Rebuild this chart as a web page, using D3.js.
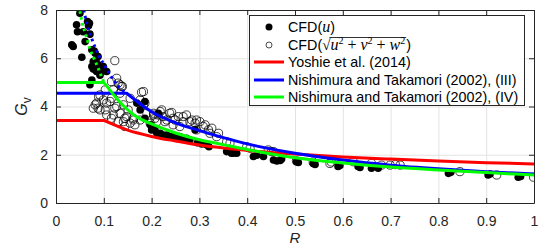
<!DOCTYPE html>
<html lang="en">
<head>
<meta charset="UTF-8">
<title>Gv vs R</title>
<script src="https://d3js.org/d3.v7.min.js"></script>
<style>
    body { margin: 0; background: #fff; }
    svg { display: block; font-family: "Liberation Sans", Arial, sans-serif; }
    .grid line { stroke: #e3e3e3; stroke-width: 1; }
    .grid path { display: none; }
    .axis path, .axis line { stroke: #262626; stroke-width: 1; }
    .axis text { fill: #262626; font-size: 14px; font-family: "Liberation Sans", Arial, sans-serif; }
</style>
</head>
<body>
<script>
    // CFD(u) - filled markers
    var filledR = [0.050, 0.043, 0.066, 0.068, 0.070, 0.045, 0.057, 0.071, 0.061, 0.033, 0.036, 0.075, 0.082, 0.088,
        0.054, 0.078, 0.088, 0.075, 0.078, 0.099, 0.085, 0.096, 0.106, 0.092, 0.075, 0.071, 0.080, 0.084,
        0.169, 0.186, 0.214, 0.176, 0.186, 0.197, 0.200, 0.207, 0.211, 0.218, 0.224, 0.232, 0.238, 0.245,
        0.252, 0.259, 0.266, 0.273, 0.280, 0.291, 0.296, 0.305, 0.315, 0.320, 0.357, 0.367, 0.371, 0.378,
        0.413, 0.420, 0.434, 0.455, 0.462, 0.469, 0.472, 0.503, 0.507, 0.538, 0.542, 0.590, 0.594, 0.632,
        0.636, 0.660, 0.674, 0.821, 0.826, 0.904, 0.908, 0.967, 0.972];
    var filledG = [7.87, 7.39, 7.52, 7.35, 7.45, 7.10, 7.10, 7.00, 6.69, 6.56, 6.49, 6.35, 6.21, 6.07,
        6.04, 5.86, 5.73, 5.66, 5.55, 5.66, 5.45, 5.45, 5.45, 5.30, 5.10, 4.90, 6.30, 5.95,
        4.14, 4.21, 3.72, 3.86, 3.51, 3.24, 3.03, 3.03, 2.89, 2.89, 2.82, 2.82, 2.75, 2.75,
        2.68, 2.75, 2.68, 2.68, 2.61, 3.03, 2.50, 2.45, 2.41, 2.33, 2.13, 2.06, 2.06, 2.06,
        1.93, 1.98, 1.93, 1.78, 1.74, 1.76, 1.82, 1.71, 1.68, 1.64, 1.60, 1.51, 1.55, 1.51,
        1.47, 1.44, 1.44, 1.23, 1.27, 1.16, 1.20, 1.07, 1.10];

    // CFD(sqrt(u2+v2+w2)) - open markers
    var openR = [0.123, 0.127, 0.116, 0.134, 0.130, 0.137, 0.139, 0.103, 0.120, 0.092, 0.089, 0.134, 0.155, 0.176,
        0.179, 0.183, 0.116, 0.099, 0.113, 0.106, 0.085, 0.141, 0.082, 0.127, 0.183, 0.186, 0.078, 0.088,
        0.123, 0.103, 0.092, 0.151, 0.221, 0.134, 0.190, 0.204, 0.238, 0.218, 0.242, 0.120, 0.106, 0.204,
        0.214, 0.273, 0.144, 0.116, 0.162, 0.207, 0.245, 0.224, 0.148, 0.256, 0.266, 0.130, 0.141, 0.176,
        0.162, 0.232, 0.249, 0.284, 0.294, 0.155, 0.197, 0.211, 0.228, 0.266, 0.280, 0.301, 0.291, 0.165,
        0.144, 0.245, 0.312, 0.259, 0.308, 0.326, 0.294, 0.319, 0.322, 0.340, 0.336, 0.357, 0.364, 0.399,
        0.406, 0.444, 0.451, 0.455, 0.503, 0.538, 0.573, 0.576, 0.622, 0.660, 0.681, 0.699, 0.710, 0.720,
        0.845, 0.922, 0.999];
    var openG = [5.90, 5.17, 5.03, 4.90, 4.97, 4.83, 4.83, 4.69, 4.69, 4.48, 4.41, 4.55, 4.34, 4.27,
        4.59, 4.62, 4.34, 4.27, 4.21, 4.14, 4.14, 4.07, 4.07, 4.00, 4.07, 4.14, 3.93, 3.93,
        3.93, 3.86, 3.86, 3.86, 3.86, 3.72, 3.72, 3.72, 3.72, 3.79, 3.75, 3.65, 3.65, 3.65,
        3.65, 3.65, 3.51, 3.51, 3.51, 3.51, 3.51, 3.58, 3.58, 3.58, 3.58, 3.37, 3.37, 3.44,
        3.44, 3.44, 3.44, 3.44, 3.44, 3.31, 3.31, 3.37, 3.37, 3.37, 3.37, 3.37, 3.31, 3.24,
        3.17, 3.24, 3.24, 3.17, 3.17, 3.10, 3.03, 3.03, 2.89, 2.89, 2.75, 2.54, 2.48, 2.33,
        2.27, 2.20, 2.13, 2.13, 1.75, 1.70, 1.64, 1.70, 1.71, 1.64, 1.57, 1.57, 1.59, 1.57,
        1.30, 1.16, 1.07];

    // Yoshie et al. (2014)
    var redR = [0, 0.1, 0.15, 0.2, 0.25, 0.3, 0.4, 0.5, 0.6, 0.7, 0.8, 0.9, 1.0];
    var redG = [3.42, 3.42, 3.02, 2.76, 2.57, 2.40, 2.18, 2.03, 1.91, 1.82, 1.74, 1.67, 1.62];

    // Nishimura and Takamori (2002), (III)
    var blueR = [0, 0.148, 0.2, 0.25, 0.3, 0.35, 0.4, 0.5, 0.6, 0.7, 0.8, 0.9, 1.0];
    var blueG = [4.55, 4.55, 3.78, 3.32, 3.0, 2.71, 2.45, 2.06, 1.78, 1.57, 1.42, 1.30, 1.20];
    var blueDotR = [0.058, 0.065, 0.075, 0.09, 0.105, 0.12, 0.135, 0.148];
    var blueDotG = [8.0, 7.4, 6.8, 6.1, 5.6, 5.1, 4.75, 4.55];

    // Nishimura and Takamori (2002), (IV)
    var greenR = [0, 0.1, 0.14, 0.17, 0.2, 0.25, 0.3, 0.35, 0.4, 0.5, 0.6, 0.7, 0.8, 0.9, 1.0];
    var greenG = [5.0, 5.0, 4.05, 3.55, 3.28, 2.9, 2.62, 2.42, 2.22, 1.88, 1.66, 1.49, 1.37, 1.26, 1.16];
    var greenDotR = [0.05, 0.055, 0.062, 0.07, 0.078, 0.086, 0.094, 0.1];
    var greenDotG = [7.95, 7.45, 7.0, 6.45, 6.05, 5.7, 5.3, 5.0];

    var xTicks = [0, 0.1, 0.2, 0.3, 0.4, 0.5, 0.6, 0.7, 0.8, 0.9, 1];
    var yTicks = [0, 2, 4, 6, 8];

    var W = 538, H = 246;
    var pL = 56, pR = 534, pT = 10, pB = 203;

    var x = d3.scaleLinear().domain([0, 1]).range([pL, pR]);
    var y = d3.scaleLinear().domain([0, 8]).range([pB, pT]);

    var svg = d3.select('body').append('svg')
        .attr('width', W)
        .attr('height', H);

    svg.append('defs').append('clipPath').attr('id', 'plot')
        .append('rect')
        .attr('x', pL).attr('y', pT)
        .attr('width', pR - pL).attr('height', pB - pT);

    // grid
    svg.append('g').attr('class', 'grid')
        .attr('transform', 'translate(0,' + pB + ')')
        .call(d3.axisBottom(x).tickValues(xTicks).tickSize(-(pB - pT)).tickFormat(''));
    svg.append('g').attr('class', 'grid')
        .attr('transform', 'translate(' + pL + ',0)')
        .call(d3.axisLeft(y).tickValues(yTicks).tickSize(-(pR - pL)).tickFormat(''));

    var plot = svg.append('g').attr('clip-path', 'url(#plot)');

    function zip(a, b) {
        return a.map(function (d, i) { return [d, b[i]]; });
    }

    // markers
    plot.append('g').selectAll('circle')
        .data(zip(filledR, filledG))
        .enter().append('circle')
        .attr('cx', function (d) { return x(d[0]); })
        .attr('cy', function (d) { return y(d[1]); })
        .attr('r', 3.8)
        .attr('fill', '#000');

    plot.append('g').selectAll('circle')
        .data(zip(openR, openG))
        .enter().append('circle')
        .attr('cx', function (d) { return x(d[0]); })
        .attr('cy', function (d) { return y(d[1]); })
        .attr('r', 4.1)
        .attr('fill', 'none')
        .attr('stroke', '#000')
        .attr('stroke-width', 0.75);

    var smooth = d3.line()
        .x(function (d) { return x(d[0]); })
        .y(function (d) { return y(d[1]); })
        .curve(d3.curveMonotoneX);
    var straight = d3.line()
        .x(function (d) { return x(d[0]); })
        .y(function (d) { return y(d[1]); });

    function model(rs, gs, color, dotR, dotG) {
        var pts = zip(rs, gs);
        if (dotR) {
            plot.append('path')
                .attr('d', smooth(zip(dotR, dotG)))
                .attr('fill', 'none')
                .attr('stroke', color)
                .attr('stroke-width', 3)
                .attr('stroke-dasharray', '2.5,3.5');
        }
        plot.append('path')
            .attr('d', straight(pts.slice(0, 2)) + smooth(pts.slice(1)).replace('M', 'L'))
            .attr('fill', 'none')
            .attr('stroke', color)
            .attr('stroke-width', 3)
            .attr('stroke-linejoin', 'round');
    }

    model(redR, redG, '#ff0000');
    model(blueR, blueG, '#0000ff', blueDotR, blueDotG);
    model(greenR, greenG, '#00ff00', greenDotR, greenDotG);

    // axes
    var fmt = d3.format('~g');
    svg.append('g').attr('class', 'axis')
        .attr('transform', 'translate(0,' + pB + ')')
        .call(d3.axisBottom(x).tickValues(xTicks).tickSizeInner(-5).tickSizeOuter(0).tickPadding(13).tickFormat(fmt));
    svg.append('g').attr('class', 'axis')
        .attr('transform', 'translate(0,' + pT + ')')
        .call(d3.axisTop(x).tickValues(xTicks).tickSizeInner(-5).tickSizeOuter(0).tickFormat(''));
    svg.append('g').attr('class', 'axis')
        .attr('transform', 'translate(' + pL + ',0)')
        .call(d3.axisLeft(y).tickValues(yTicks).tickSizeInner(-5).tickSizeOuter(0).tickPadding(8).tickFormat(fmt));
    svg.append('g').attr('class', 'axis')
        .attr('transform', 'translate(' + pR + ',0)')
        .call(d3.axisRight(y).tickValues(yTicks).tickSizeInner(-5).tickSizeOuter(0).tickFormat(''));

    // axis labels
    svg.append('text')
        .attr('x', (pL + pR) / 2).attr('y', 243)
        .attr('text-anchor', 'middle')
        .attr('font-size', 15).attr('font-style', 'italic').attr('fill', '#262626')
        .text('R');

    var gl = svg.append('text')
        .attr('transform', 'translate(27,' + ((pT + pB) / 2) + ') rotate(-90)')
        .attr('text-anchor', 'middle')
        .attr('font-size', 16).attr('fill', '#262626');
    gl.append('tspan').attr('font-style', 'italic').text('G');
    gl.append('tspan').attr('font-size', 12).attr('dy', 4).text('v');

    // legend
    var lg = svg.append('g');
    lg.append('rect')
        .attr('x', 249.5).attr('y', 15.5)
        .attr('width', 275).attr('height', 90)
        .attr('fill', '#fff').attr('stroke', '#262626').attr('stroke-width', 1);

    var rowY = [27, 45, 62, 80, 97];
    var tx = 288, fs = 14.3;

    lg.append('circle').attr('cx', 269).attr('cy', rowY[0]).attr('r', 3.5).attr('fill', '#000');
    lg.append('circle').attr('cx', 269).attr('cy', rowY[1]).attr('r', 3).attr('fill', 'none')
        .attr('stroke', '#000').attr('stroke-width', 0.7);

    var t0 = lg.append('text').attr('x', tx).attr('y', rowY[0] + 5).attr('font-size', fs);
    t0.append('tspan').text('CFD(');
    t0.append('tspan').attr('font-family', '"Liberation Serif", serif').attr('font-style', 'italic')
        .attr('font-size', 16).text('u');
    t0.append('tspan').text(')');

    // sqrt label built piece by piece
    var cx = tx, by = rowY[1] + 5;
    function piece(str, opts) {
        var t = lg.append('text').attr('x', cx).attr('y', by + (opts.dy || 0))
            .attr('font-size', opts.size || fs)
            .style('white-space', 'pre')
            .text(str);
        if (opts.serif) t.attr('font-family', '"Liberation Serif", "Times New Roman", serif');
        if (opts.italic) t.attr('font-style', 'italic');
        cx += t.node().getComputedTextLength();
        return t;
    }
    var sp = '\u00A0+\u00A0';
    piece('CFD(', {});
    piece('\u221A', { serif: true, size: 15 });
    var barStart = cx;
    piece('u', { serif: true, italic: true, size: 16 });
    piece('2', { serif: true, size: 10, dy: -6 });
    piece(sp, { serif: true, size: 16 });
    piece('v', { serif: true, italic: true, size: 16 });
    piece('2', { serif: true, size: 10, dy: -6 });
    piece(sp, { serif: true, size: 16 });
    piece('w', { serif: true, italic: true, size: 16 });
    piece('2', { serif: true, size: 10, dy: -6 });
    cx += 1;
    var barEnd = cx;
    piece(')', {});
    lg.append('line')
        .attr('x1', barStart - 1).attr('x2', barEnd)
        .attr('y1', by - 12.5).attr('y2', by - 12.5)
        .attr('stroke', '#000').attr('stroke-width', 0.8);

    var lineRows = [
        { c: '#ff0000', t: 'Yoshie et al. (2014)' },
        { c: '#0000ff', t: 'Nishimura and Takamori (2002), (III)' },
        { c: '#00ff00', t: 'Nishimura and Takamori (2002), (IV)' }
    ];
    lineRows.forEach(function (d, i) {
        var yy = rowY[i + 2];
        lg.append('line')
            .attr('x1', 254).attr('x2', 284)
            .attr('y1', yy).attr('y2', yy)
            .attr('stroke', d.c).attr('stroke-width', 3);
        lg.append('text')
            .attr('x', tx).attr('y', yy + 5)
            .attr('font-size', fs)
            .text(d.t);
    });
</script>
</body>
</html>
